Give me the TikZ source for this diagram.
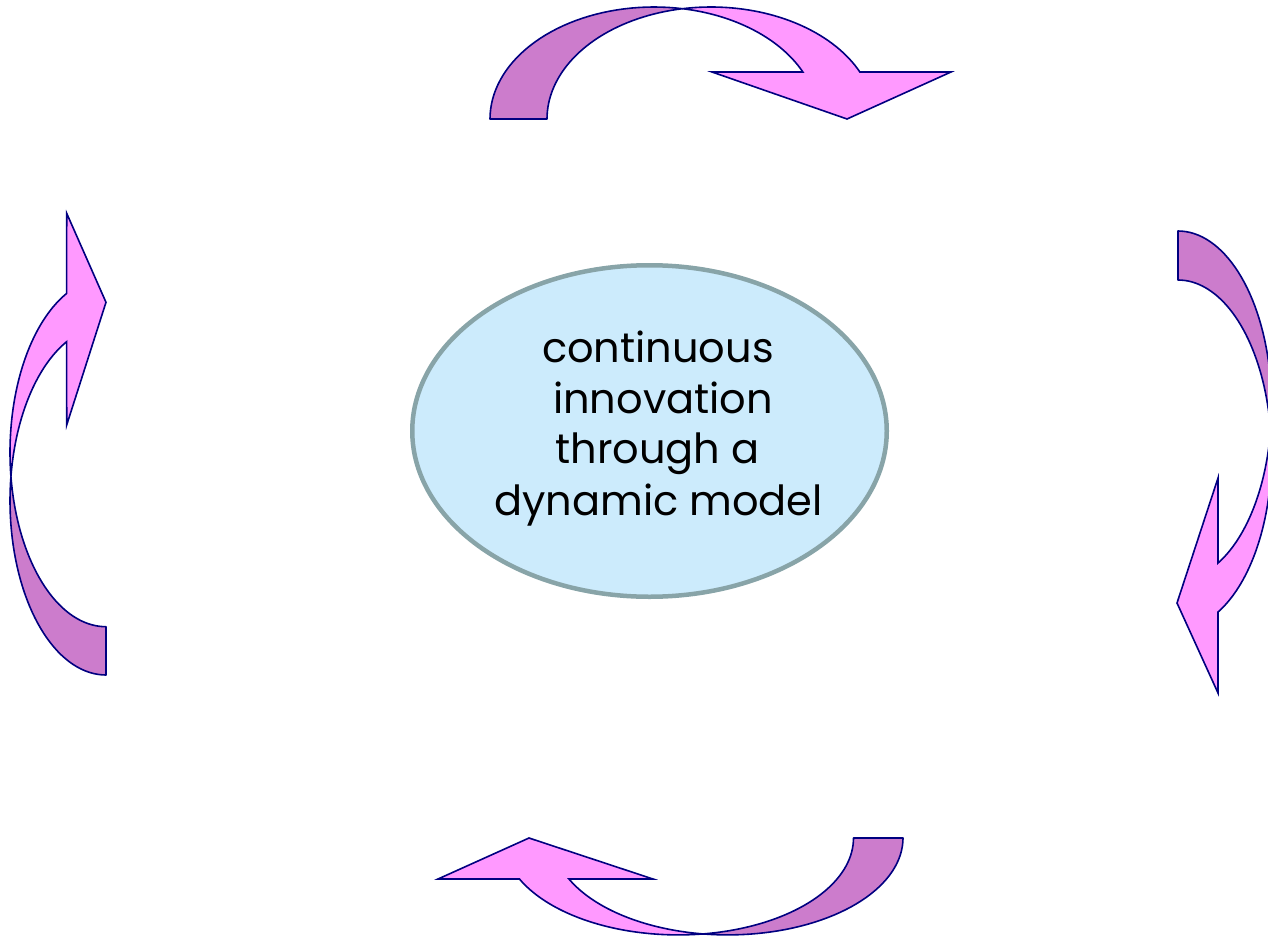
\documentclass[tikz,border=0pt]{standalone}
\usepackage{fontspec}
\setmainfont{Poppins}
\usetikzlibrary{shapes.geometric}
\definecolor{backband}{HTML}{CC7CCC}
\definecolor{frontband}{HTML}{FF99FF}
\definecolor{bandline}{HTML}{000080}
\definecolor{ellfill}{HTML}{CCEBFC}
\definecolor{ellline}{HTML}{88A4A8}
\tikzset{
  backpart/.style={fill=backband, draw=bandline, line width=1.6pt, line join=round},
  frontpart/.style={fill=frontband, draw=bandline, line width=1.6pt, line join=miter},
  linetext/.style={anchor=base, inner sep=0pt, font=\fontsize{41.5}{50}\selectfont}
}
\begin{document}
\begin{tikzpicture}[x=1pt,y=-1pt]
\useasboundingbox (0,0) rectangle (1268,936);
\clip (0,0) rectangle (1268,936);
% top arrow
\draw[backpart] plot[domain=180:280,samples=40] ({654+164*cos(\x)},{119+112*sin(\x)})
  -- plot[domain=260:180,samples=40] ({711+164*cos(\x)},{119+112*sin(\x)}) -- cycle;
\draw[frontpart] plot[domain=260:335.2,samples=40] ({711+164*cos(\x)},{119+112*sin(\x)})
  -- (951,72) -- (847,119) -- (712,72)
  -- plot[domain=335.2:280,samples=40] ({654+164*cos(\x)},{119+112*sin(\x)}) -- cycle;
% right arrow
\draw[backpart] plot[domain=-90:8.08,samples=40] ({1178+93.5*cos(\x)},{405.4+174.4*sin(\x)})
  -- plot[domain=-8.08:-90,samples=40] ({1178+93.5*cos(\x)},{454.4+174.4*sin(\x)}) -- cycle;
\draw[frontpart] plot[domain=-8.08:64.67,samples=40] ({1178+93.5*cos(\x)},{454.4+174.4*sin(\x)})
  -- (1218,693) -- (1177,603) -- (1218,478)
  -- plot[domain=64.67:8.08,samples=40] ({1178+93.5*cos(\x)},{405.4+174.4*sin(\x)}) -- cycle;
% bottom arrow
\draw[backpart] plot[domain=0:98.12,samples=40] ({727.75+175.25*cos(\x)},{838+96.9*sin(\x)})
  -- plot[domain=81.88:0,samples=40] ({678.25+175.25*cos(\x)},{838+96.9*sin(\x)}) -- cycle;
\draw[frontpart] plot[domain=81.88:154.97,samples=40] ({678.25+175.25*cos(\x)},{838+96.9*sin(\x)})
  -- (438,879) -- (529,838) -- (653,879)
  -- plot[domain=154.97:98.12,samples=40] ({727.75+175.25*cos(\x)},{838+96.9*sin(\x)}) -- cycle;
% left arrow
\draw[backpart] plot[domain=90:187.97,samples=40] ({106+96*cos(\x)},{500.7+174.3*sin(\x)})
  -- plot[domain=172.03:90,samples=40] ({106+96*cos(\x)},{452.4+174.3*sin(\x)}) -- cycle;
\draw[frontpart] plot[domain=172.03:245.83,samples=40] ({106+96*cos(\x)},{452.4+174.3*sin(\x)})
  -- (66.7,213.3) -- (106,302.3) -- (66.7,425)
  -- plot[domain=245.83:187.97,samples=40] ({106+96*cos(\x)},{500.7+174.3*sin(\x)}) -- cycle;
% centre ellipse
\node[ellipse, draw=ellline, fill=ellfill, line width=4.5pt, inner sep=0pt,
      minimum width=474.5pt, minimum height=331.5pt] (core) at (649.5,431) {};
\node[linetext] (l1) at (658,362) {continuous};
\node[linetext] (l2) at (663,413) {innovation};
\node[linetext] (l3) at (657.5,463) {through a};
\node[linetext] (l4) at (658.5,515) {dynamic model};
\end{tikzpicture}
\end{document}
